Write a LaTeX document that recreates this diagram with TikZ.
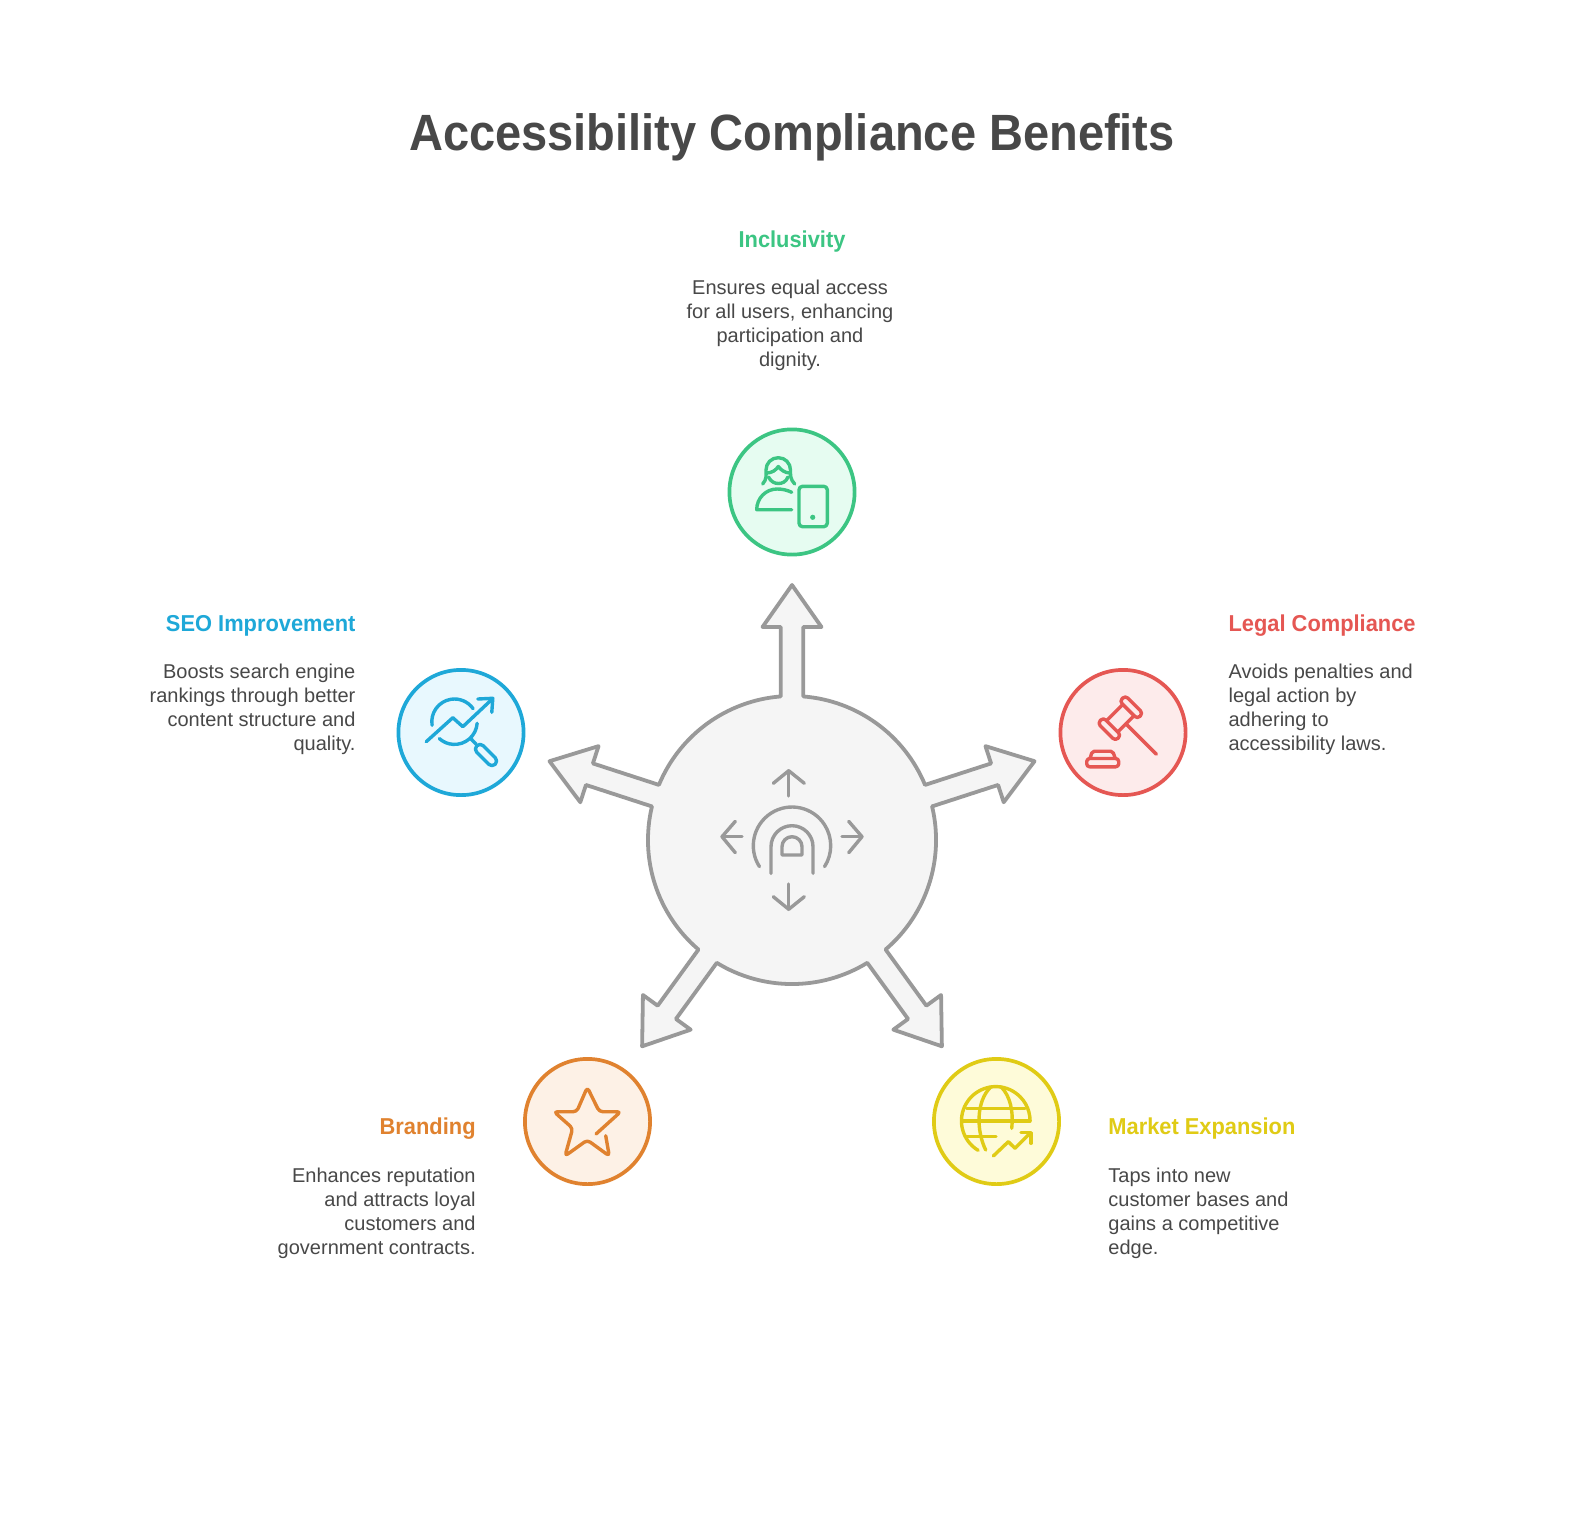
\documentclass[tikz,border=0pt]{standalone}
\usepackage{fontspec}
\setmainfont{Liberation Sans}
\newfontfamily\titlefont[FakeStretch=0.922]{Liberation Sans Bold}
\newfontfamily\headfont[FakeStretch=0.95]{Liberation Sans Bold}
\usepackage{xcolor}
\usepackage{tikz}
\usetikzlibrary{calc}
\definecolor{ink}{HTML}{484848}
\definecolor{hubline}{HTML}{999999}
\definecolor{hubbg}{HTML}{F5F5F5}
\definecolor{green}{HTML}{3CC583}
\definecolor{greenbg}{HTML}{E6FCF1}
\definecolor{cyan}{HTML}{1EA8D8}
\definecolor{cyanbg}{HTML}{E8F8FE}
\definecolor{red}{HTML}{E55753}
\definecolor{redbg}{HTML}{FDEBEB}
\definecolor{orange}{HTML}{E0822F}
\definecolor{orangebg}{HTML}{FDF1E6}
\definecolor{yellow}{HTML}{E0CB15}
\definecolor{yellowbg}{HTML}{FEFBD9}
\tikzset{
  hubshape/.style={draw=hubline, line width=3.8pt, fill=hubbg, line join=round},
  disc/.style 2 args={draw=#1, line width=3.7pt, fill=#2},
  glyph/.style={draw=#1, line width=3.4pt, line cap=round, line join=round},
  heading/.style={text=#1, inner sep=0pt, font=\fontsize{23}{28}\selectfont\headfont},
  blurb/.style={text=ink, inner sep=0pt, font=\fontsize{20}{24.2}\selectfont}
}

\begin{document}
\begin{tikzpicture}[x=1pt, y=1pt, yscale=-1]
  \useasboundingbox (0,0) rectangle (1584,1512);
  \fill[white] (0,0) rectangle (1584,1512);

  \def\r{62.6}
  \coordinate (hub) at (792,840);
  \coordinate (I) at (792,492);
  \coordinate (L) at (1123,732.5);
  \coordinate (M) at (996.5,1121.5);
  \coordinate (B) at (587.5,1121.5);
  \coordinate (S) at (461,732.5);

  \node[text=ink, inner sep=0pt, font=\fontsize{51}{60}\selectfont\titlefont] (title) at (792,137) {Accessibility Compliance Benefits};

  % Hub with five arrows
  \begin{scope}[shift={(hub)}]
    \draw[hubshape] (-85.5:144)
      \foreach \a in {-18,54,126,198,270} {
        arc[start angle=\a-67.5, end angle=\a-4.5, radius=144]
        -- ([rotate=\a]213,-11.3) -- ([rotate=\a]213,-29.5) -- ([rotate=\a]255,0)
        -- ([rotate=\a]213,29.5) -- ([rotate=\a]213,11.3) -- ([rotate=\a]143.6,11.3)
      } -- cycle;
    % Finger icon
    \draw[glyph=hubline] (147.3:38.7) ++(0,5.7) arc[start angle=147.3, end angle=392.7, radius=38.7];
    \draw[glyph=hubline] (-21,33.3) -- (-21,6.7) arc[start angle=180, end angle=360, radius=21] -- (21,33.3);
    \draw[glyph=hubline] (-10,15) -- (-10,6.7) arc[start angle=180, end angle=360, radius=10] -- (10,15) -- cycle;
    \draw[glyph=hubline] (-3.3,-44) -- (-3.3,-69.3);
    \draw[glyph=hubline] (-18.7,-56.7) -- (-3.3,-69.3) -- (12.3,-56.7);
    \draw[glyph=hubline] (-3.3,44) -- (-3.3,69.3);
    \draw[glyph=hubline] (-18.7,56.7) -- (-3.3,69.3) -- (12.3,56.7);
    \draw[glyph=hubline] (-50,-3.3) -- (-70,-3.3);
    \draw[glyph=hubline] (-56.7,-18.7) -- (-70,-3.3) -- (-56.7,12.7);
    \draw[glyph=hubline] (50,-3.3) -- (70,-3.3);
    \draw[glyph=hubline] (56.7,-18.7) -- (70,-3.3) -- (56.7,12.7);
  \end{scope}

  \draw[disc={green}{greenbg}] (I) circle (\r);
  \draw[disc={red}{redbg}] (L) circle (\r);
  \draw[disc={yellow}{yellowbg}] (M) circle (\r);
  \draw[disc={orange}{orangebg}] (B) circle (\r);
  \draw[disc={cyan}{cyanbg}] (S) circle (\r);

  % Person and tablet
  \begin{scope}[shift={(I)}]
    \draw[glyph=green] (-29.3,-8) .. controls (-25,-13) and (-26,-17) .. (-26,-22)
      .. controls (-26,-29) and (-20.5,-34.3) .. (-13.7,-34.3)
      .. controls (-7,-34.3) and (-1.5,-29) .. (-1.5,-22)
      .. controls (-1.5,-17) and (-2,-13) .. (2.7,-8);
    \draw[glyph=green] (-25.5,-19) .. controls (-20,-19) and (-16,-22) .. (-13.7,-25.5)
      .. controls (-11,-22) and (-7,-19) .. (-2,-19);
    \draw[glyph=green] (-23.5,-15) .. controls (-21,-10) and (-17,-8.5) .. (-13.7,-8.5)
      .. controls (-10,-8.5) and (-6,-10) .. (-4,-15);
    \draw[glyph=green] (-0.3,0.3) .. controls (-5,-2) and (-10,-3) .. (-15,-3)
      .. controls (-26,-3) and (-35.3,6) .. (-35.3,17.7) -- (-0.3,17.7);
    \draw[glyph=green, rounded corners=3.5pt] (7,-5.7) rectangle (35.3,34.7);
    \fill[green] (20.7,25.3) circle (2.6);
  \end{scope}

  % Gavel
  \begin{scope}[shift={(L)}]
    \begin{scope}[shift={(-2.7,-14.3)}, rotate=45]
      \draw[glyph=red, rounded corners=3.5pt] (-12.5,-19.5) rectangle (12.5,-11.5);
      \draw[glyph=red, rounded corners=3.5pt] (-12.5,11.5) rectangle (12.5,19.5);
      \draw[glyph=red] (-8,-11.5) -- (-8,11.5);
      \draw[glyph=red] (8,-11.5) -- (8,11.5);
      \draw[glyph=red] (8,0) -- (51,0);
    \end{scope}
    \draw[glyph=red, rounded corners=2pt] (-33,26) -- (-30.7,18.7) -- (-10.3,18.7) -- (-7.7,26);
    \draw[glyph=red, rounded corners=3pt] (-36.3,26) rectangle (-4.3,34.3);
  \end{scope}

  % Globe and trend
  \begin{scope}[shift={(M)}]
    \draw[glyph=yellow] (-18.4,28.8) arc[start angle=121, end angle=360, radius=34.3];
    \draw[glyph=yellow] (-29.8,-13) -- (28.5,-13);
    \draw[glyph=yellow] (-34.8,-0.5) -- (33.5,-0.5);
    \draw[glyph=yellow] (-29.8,15) -- (-0.5,15);
    \draw[glyph=yellow] (-5.5,-34.8) .. controls (-21,-20) and (-20,10) .. (-10.8,28.5);
    \draw[glyph=yellow] (4.5,-34.8) .. controls (14,-25) and (17,-10) .. (15.2,6.8);
    \draw[glyph=yellow] (-3.2,34.5) -- (11.8,20.2) -- (18.5,26.8) -- (33.5,11.8);
    \draw[glyph=yellow] (24.5,11.2) -- (34.5,11.2) -- (34.5,21.8);
  \end{scope}

  % Star
  \begin{scope}[shift={(B)}]
    \draw[glyph=orange, rounded corners=3.5pt] (18.2,14.2) -- (21.8,34.5) -- (-0.2,18.5) -- (-22.5,34.5)
      -- (-14.8,6.8) -- (-33.5,-9.8) -- (-10.8,-9.8) -- (-0.2,-34.2) -- (11.8,-9.8) -- (33.2,-9.8) -- (8.5,12.5);
  \end{scope}

  % Lens and chart
  \begin{scope}[shift={(S)}]
    \draw[glyph=cyan] (-6.5,-10.8) ++(171:22.7) arc[start angle=171, end angle=325, radius=22.7];
    \draw[glyph=cyan] (-6.5,-10.8) ++(4:22.7) arc[start angle=4, end angle=132, radius=22.7];
    \draw[glyph=cyan] (-34.8,9.2) -- (-8.2,-14.8) -- (1.8,-5.8) -- (30.2,-32.5);
    \draw[glyph=cyan] (16.8,-33.5) -- (31.8,-34.2) -- (30.8,-20.2);
    \draw[glyph=cyan] (9.5,5.8) -- (15.2,11.8);
    \draw[glyph=cyan, shift={(25,22.5)}, rotate=45, rounded corners=4.4pt] (-13,-4.6) rectangle (13,4.6);
  \end{scope}

  % Labels
  \node[heading=green] (inclusivity) at (792,242) {Inclusivity};
  \node[blurb, align=center] (inclusivitytext) at (790,325.5) {Ensures equal access\\for all users, enhancing\\participation and\\dignity.};

  \node[heading=red, anchor=west] (legal) at (1228.4,626) {Legal Compliance};
  \node[blurb, align=left, anchor=west] (legaltext) at (1228.4,709.5) {Avoids penalties and\\legal action by\\adhering to\\accessibility laws.};

  \node[heading=yellow, anchor=west] (market) at (1108.2,1129) {Market Expansion};
  \node[blurb, align=left, anchor=west] (markettext) at (1108.2,1213.3) {Taps into new\\customer bases and\\gains a competitive\\edge.};

  \node[heading=orange, anchor=east] (branding) at (475.8,1129) {Branding};
  \node[blurb, align=right, anchor=east] (brandingtext) at (475.8,1213.3) {Enhances reputation\\and attracts loyal\\customers and\\government contracts.};

  \node[heading=cyan, anchor=east] (seo) at (355.6,626) {SEO Improvement};
  \node[blurb, align=right, anchor=east] (seotext) at (355.6,709.5) {Boosts search engine\\rankings through better\\content structure and\\quality.};
\end{tikzpicture}
\end{document}
